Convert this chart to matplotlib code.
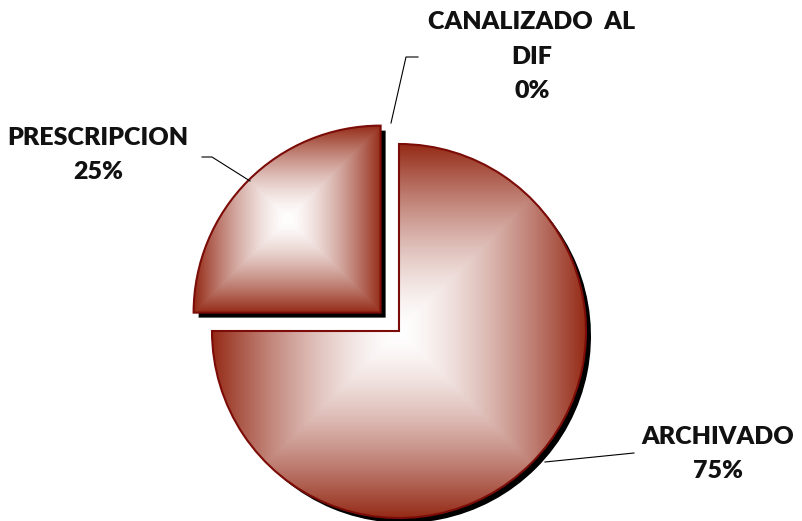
import numpy as np
import matplotlib
matplotlib.use("Agg")
import matplotlib.pyplot as plt
from matplotlib.patches import PathPatch
from matplotlib.transforms import Affine2D

# ---- data ----
categories = ["ARCHIVADO", "PRESCRIPCION", "CANALIZADO  AL\nDIF"]
values = [75, 25, 0]
pct_labels = ["75%", "25%", "0%"]

W, H = 802, 521
fig = plt.figure(figsize=(W / 100, H / 100), dpi=100)
ax = fig.add_axes([0, 0, 1, 1])

def Y(y):  # image row -> data y
    return H - y

edge_rgb = np.array([148, 42, 22]) / 255.0
outline = "#7c0c08"
explode_px = 26  # pie explode is in data units here

wedges, _ = ax.pie(values, explode=[0, explode_px, 0], startangle=90, counterclock=False,
                   center=(399, Y(331)), radius=187,
                   wedgeprops=dict(edgecolor=outline, linewidth=1.5, facecolor="none"))

for i, w in enumerate(wedges):
    if values[i] == 0:
        w.set_visible(False)
        continue
    w.set_zorder(3)
    path = w.get_path()
    # shadow
    sh = PathPatch(Affine2D().translate(5, -5).transform_path(path),
                   facecolor="black", edgecolor="none", zorder=1)
    ax.add_patch(sh)
    # rectangular gradient from centre of bounding box
    bb = path.get_extents()
    n = 500
    xs = np.linspace(-1, 1, n)
    xx, yy = np.meshgrid(xs, xs)
    t = np.maximum(np.abs(xx), np.abs(yy)) ** 1.5
    img = np.ones((n, n, 3)) + (edge_rgb - 1.0)[None, None, :] * t[..., None]
    im = ax.imshow(img, extent=(bb.x0, bb.x1, bb.y0, bb.y1), origin="lower",
                   zorder=2, interpolation="bilinear")
    clip = PathPatch(path, transform=ax.transData, facecolor="none", edgecolor="none")
    ax.add_patch(clip)
    im.set_clip_path(clip)

font = dict(family=["Lato", "DejaVu Sans"], fontweight="heavy", fontsize=18,
            color="#111111", ha="center", va="center")

# labels
ax.text(532, Y(22), "CANALIZADO  AL", **font)
ax.text(532, Y(57), "DIF", **font)
ax.text(532, Y(91), pct_labels[2], **font)
ax.text(98, Y(138), "PRESCRIPCION", **font)
ax.text(98, Y(172), pct_labels[1], **font)
ax.text(718, Y(437), categories[0], **font)
ax.text(718, Y(471), pct_labels[0], **font)

# leader lines
lk = dict(color="black", linewidth=0.8, zorder=4)
ax.plot([391, 406, 418], [Y(123), Y(57), Y(57)], **lk)
ax.plot([202, 212, 250], [Y(157), Y(157), Y(181)], **lk)
ax.plot([545, 634], [Y(462), Y(453)], **lk)

ax.set_xlim(0, W)
ax.set_ylim(0, H)
ax.set_aspect("auto")
ax.axis("off")
fig.savefig("out.png", dpi=100)
